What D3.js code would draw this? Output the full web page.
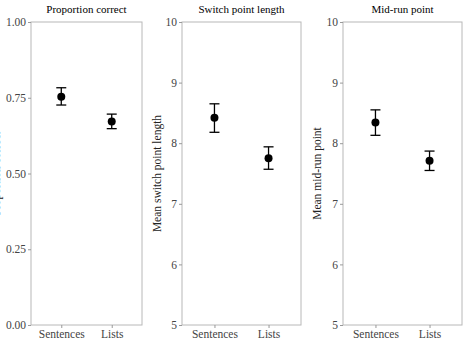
<!DOCTYPE html>
<html>
<head>
<meta charset="utf-8">
<script src="https://cdn.jsdelivr.net/npm/d3@7"></script>
<style>
  body { margin: 0; background: #fff; }
  svg { display: block; }
  text { font-family: "Liberation Serif", "DejaVu Serif", serif; }
</style>
</head>
<body>
<svg id="chart" width="463" height="344"></svg>
<script>
// Data
const conditions = ["Sentences", "Lists"];
const titles = ["Proportion correct", "Switch point length", "Mid-run point"];
const yLabels = ["Proportion correct", "Mean switch point length", "Mean mid-run point"];
const yDomains = [[0, 1], [5, 10], [5, 10]];
const yTicks = [[0, 0.25, 0.5, 0.75, 1], [5, 6, 7, 8, 9, 10], [5, 6, 7, 8, 9, 10]];
const means = [[0.753, 0.672], [8.42, 7.75], [8.34, 7.71]];
const lower = [[0.726, 0.648], [8.18, 7.57], [8.13, 7.55]];
const upper = [[0.783, 0.696], [8.65, 7.94], [8.55, 7.87]];

const svg = d3.select("#chart");
const plotTop = 22, plotBottom = 325;
const panels = [
  { left: 31, right: 142, labelX: 0 },
  { left: 182, right: 301, labelX: 161 },
  { left: 343, right: 462, labelX: 321 }
];

panels.forEach((p, i) => {
  const g = svg.append("g");

  // ggplot-style discrete scale: 0.6 units of padding each side
  const x = d3.scalePoint().domain(conditions).range([p.left, p.right]).padding(0.6);
  const y = d3.scaleLinear().domain(yDomains[i]).range([plotBottom, plotTop]);

  g.append("rect")
    .attr("x", p.left).attr("y", plotTop)
    .attr("width", p.right - p.left).attr("height", plotBottom - plotTop)
    .attr("fill", "none").attr("stroke", "#b8b8b8").attr("stroke-width", 1);

  const fmt = i === 0 ? d3.format(".2f") : d3.format("d");
  const yAxis = g.append("g")
    .attr("transform", `translate(${p.left},0)`)
    .call(d3.axisLeft(y).tickValues(yTicks[i]).tickFormat(fmt).tickSize(3).tickPadding(2));
  const xAxis = g.append("g")
    .attr("transform", `translate(0,${plotBottom})`)
    .call(d3.axisBottom(x).tickSize(3).tickPadding(2));

  [yAxis, xAxis].forEach(ax => {
    ax.select(".domain").remove();
    ax.selectAll(".tick line").attr("stroke", "#999");
    ax.selectAll(".tick text")
      .attr("fill", "#444")
      .style("font-size", "11.5px")
      .style("font-family", "'Liberation Serif', serif");
  });

  g.append("text")
    .attr("x", (p.left + p.right) / 2).attr("y", 13)
    .attr("text-anchor", "middle")
    .style("font-size", "11px")
    .text(titles[i]);

  // first panel's label sits mostly off the left edge, as in the original
  g.append("text")
    .attr("transform", `translate(${p.labelX},${(plotTop + plotBottom) / 2}) rotate(-90)`)
    .attr("text-anchor", "middle")
    .style("font-size", "11.5px")
    .attr("fill", "#222")
    .text(yLabels[i]);

  // Error bars
  conditions.forEach((c, j) => {
    const cx = x(c);
    g.append("line")
      .attr("x1", cx).attr("x2", cx)
      .attr("y1", y(lower[i][j])).attr("y2", y(upper[i][j]))
      .attr("stroke", "#000").attr("stroke-width", 1.3);
    [lower[i][j], upper[i][j]].forEach(v => {
      g.append("line")
        .attr("x1", cx - 5).attr("x2", cx + 5)
        .attr("y1", y(v)).attr("y2", y(v))
        .attr("stroke", "#000").attr("stroke-width", 1.3);
    });
  });

  g.selectAll(".pt")
    .data(conditions)
    .enter()
    .append("circle")
    .attr("class", "pt")
    .attr("cx", d => x(d))
    .attr("cy", (d, j) => y(means[i][j]))
    .attr("r", 4)
    .attr("fill", "#000");
});
</script>
</body>
</html>
